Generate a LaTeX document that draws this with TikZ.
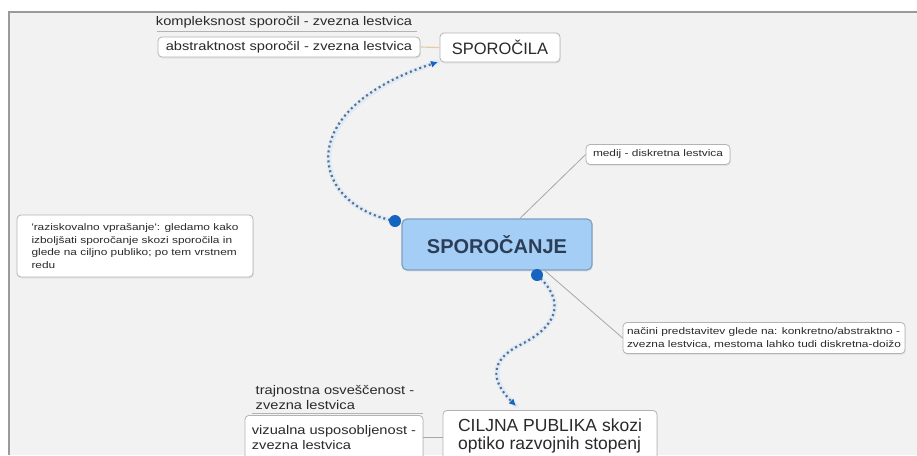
\documentclass[tikz,border=0pt]{standalone}
\usepackage{fontspec}
\setmainfont{Liberation Sans}
\newfontfamily\smallf{Liberation Sans}[FakeStretch=1.25]
\newfontfamily\medf{Liberation Sans}[FakeStretch=1.17]
\usetikzlibrary{arrows.meta,calc,shadows}
\definecolor{bgc}{HTML}{F2F2F2}
\definecolor{framec}{HTML}{9A9A9A}
\definecolor{boxc}{HTML}{B3B3B3}
\definecolor{txtc}{HTML}{2A2A2A}
\definecolor{mainfill}{HTML}{A4CEF6}
\definecolor{mainline}{HTML}{7F9FBF}
\definecolor{maintxt}{HTML}{2C3E57}
\definecolor{dotc}{HTML}{1565C0}
\definecolor{curvec}{HTML}{56708F}
\definecolor{haloc}{HTML}{E0EBF6}
\definecolor{linkc}{HTML}{E3CCAA}
\definecolor{connc}{HTML}{A8A8A8}
\tikzset{
  box/.style={draw=boxc, fill=white, rounded corners=4pt, line width=0.8pt, inner sep=0pt, text=txtc,
    drop shadow={opacity=0.12, shadow xshift=0.8pt, shadow yshift=-1.5pt}},
  smalltxt/.style={font=\smallf\fontsize{9.5}{12.5}\selectfont},
  medtxt/.style={font=\medf\fontsize{12.5}{14.5}\selectfont},
  mainbox/.style={draw=mainline, fill=mainfill, rounded corners=5pt, line width=1.2pt, text=maintxt,
    font=\bfseries\fontsize{20}{22}\selectfont, drop shadow={opacity=0.12, shadow xshift=0.8pt, shadow yshift=-1.5pt}},
  uline/.style={draw=boxc, line width=0.8pt},
  conn/.style={draw=connc, line width=0.8pt},
  linkline/.style={draw=linkc, line width=1.2pt},
  halo/.style={draw=haloc, line width=5pt, line cap=round},
  dotline/.style={draw=curvec, line width=2.2pt, dash pattern=on 2pt off 3pt},
  tipc/.style={-{Latex[length=7pt,width=7pt,fill=dotc,color=dotc]}},
  bigdot/.style={fill=dotc}
}
\begin{document}
\begin{tikzpicture}[x=1pt,y=-1pt]
\clip (0,0) rectangle (917,455);
\fill[white] (0,0) rectangle (917,455);
\fill[bgc] (9,12) rectangle (917,455);
\draw[framec, line width=1.3pt] (9,455) -- (9,12) -- (917,12);

% top-left topics
\node[medtxt, text=txtc, inner sep=0pt] (kompl) at (284,22) {kompleksnost sporočil - zvezna lestvica};
\draw[uline] (157,31) -- (417,31);
\node[box, medtxt, minimum width=262, minimum height=20] (abst) at (289,47) {abstraktnost sporočil - zvezna lestvica};
\node[box, font=\fontsize{16.5}{18}\selectfont, minimum width=120, minimum height=29] (spl) at (500,47.5) {SPOROČILA};
\draw[linkline] (abst.east) -- (spl.west);

% right topics
\node[box, smalltxt, minimum width=144, minimum height=20] (medij) at (658,154.5) {medij - diskretna lestvica};
\node[box, smalltxt, align=left, minimum width=282, minimum height=31, font=\smallf\fontsize{9.5}{12.5}\selectfont] (nac) at (764,338) {načini predstavitev glede na: konkretno/abstraktno -\\zvezna lestvica, mestoma lahko tudi diskretna-doižo};

% left note
\node[box, smalltxt, align=left, minimum width=236, minimum height=62] (raz) at (135,246) {'raziskovalno vprašanje': gledamo kako\\izboljšati sporočanje skozi sporočila in\\glede na ciljno publiko; po tem vrstnem\\redu};

% central
\node[mainbox, minimum width=190, minimum height=51] (spc) at (497,244.5) {SPOROČANJE};
\draw[conn] (medij.west) -- ($(spc.north west)!0.62!(spc.north east)$);
\draw[conn] ($(spc.south west)!0.75!(spc.south east)$) -- (nac.west);

% bottom topics
\node[box, anchor=north, align=left, font=\fontsize{17.5}{18}\selectfont, minimum width=214, minimum height=52] (cil) at (550,410) {CILJNA PUBLIKA skozi\\optiko razvojnih stopenj};
\node[box, medtxt, anchor=north, align=left, minimum width=178, minimum height=44] (viz) at (334,415) {vizualna usposobljenost -\\zvezna lestvica};
\node[medtxt, text=txtc, align=left, inner sep=0pt] (traj) at (335,397.5) {trajnostna osveščenost -\\zvezna lestvica};
\draw[uline] (252,413) -- (423,413);
\draw[conn] (viz.east) -- (viz.east -| cil.west);

% dotted relationship curves
\coordinate (d1) at (395,221);
\coordinate (d2) at (537,275);
\coordinate (a1) at (438,62);
\coordinate (a2) at (516,406);
\coordinate (m2) at (520,345);
\draw[halo] (d1) .. controls (310,205) and (290,110) .. (a1);
\draw[halo] (d2) .. controls (565,300) and (560,325) .. (m2) .. controls (490,360) and (490,380) .. (a2);
\draw[dotline, tipc] (d1) .. controls (310,205) and (290,110) .. (a1);
\draw[dotline, tipc] (d2) .. controls (565,300) and (560,325) .. (m2) .. controls (490,360) and (490,380) .. (a2);
\fill[bigdot] (d1) circle (6);
\fill[bigdot] (d2) circle (6);
\end{tikzpicture}
\end{document}
